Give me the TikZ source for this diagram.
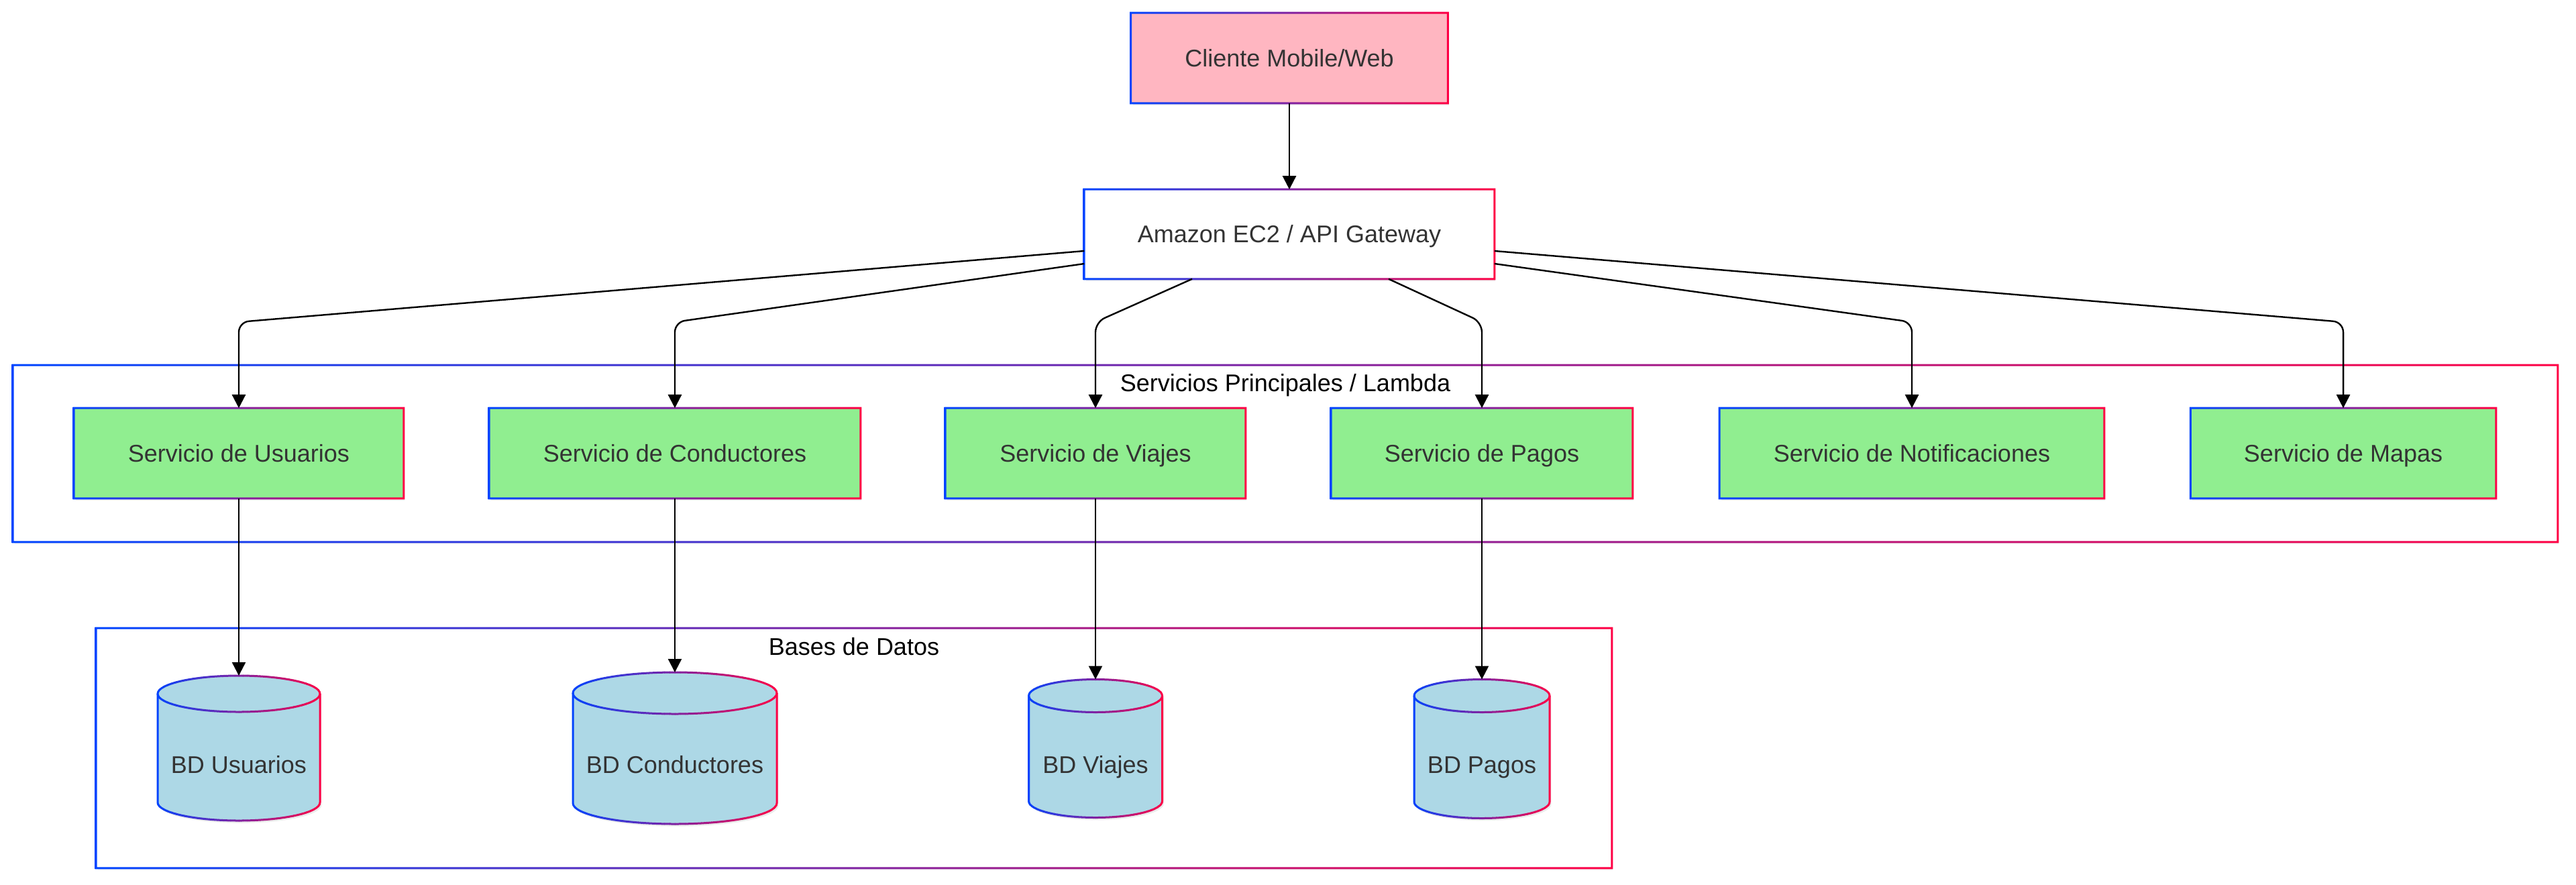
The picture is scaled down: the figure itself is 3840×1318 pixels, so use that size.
\documentclass[tikz,border=0pt]{standalone}
\usepackage{fontspec}
\setmainfont{Liberation Sans}
\usetikzlibrary{arrows.meta,shadows,calc}
\definecolor{gblue}{RGB}{0,68,255}
\definecolor{gred}{RGB}{255,0,68}
\definecolor{txtc}{RGB}{51,51,51}
\definecolor{pinkfill}{RGB}{255,182,193}
\definecolor{greenfill}{RGB}{144,238,144}
\definecolor{bluefill}{RGB}{173,216,230}
\def\px{0.25pt}
\def\hw{0.375pt}
\newcommand\gframe[1]{\shade[left color=gblue,right color=gred,even odd rule]
  ([xshift=-\hw,yshift=-\hw]#1.south west) rectangle ([xshift=\hw,yshift=\hw]#1.north east)
  ([xshift=\hw,yshift=\hw]#1.south west) rectangle ([xshift=-\hw,yshift=-\hw]#1.north east);}
\newcommand\dbcyl[5]{%
 \pgfmathsetmacro\kx{0.5523*#2}\pgfmathsetmacro\ky{0.5523*#3}%
 \begin{scope}[xshift=0.6pt,yshift=-0.9pt]
  \fill[black,opacity=0.08] (#1-#2,#4) -- (#1-#2,#5) .. controls (#1-#2,#5+\ky) and (#1-\kx,#5+#3) .. (#1,#5+#3) .. controls (#1+\kx,#5+#3) and (#1+#2,#5+\ky) .. (#1+#2,#5) -- (#1+#2,#4) .. controls (#1+#2,#4-\ky) and (#1+\kx,#4-#3) .. (#1,#4-#3) .. controls (#1-\kx,#4-#3) and (#1-#2,#4-\ky) .. (#1-#2,#4) -- cycle;
 \end{scope}
 \fill[bluefill] (#1-#2,#4) -- (#1-#2,#5) .. controls (#1-#2,#5+\ky) and (#1-\kx,#5+#3) .. (#1,#5+#3) .. controls (#1+\kx,#5+#3) and (#1+#2,#5+\ky) .. (#1+#2,#5) -- (#1+#2,#4) .. controls (#1+#2,#4-\ky) and (#1+\kx,#4-#3) .. (#1,#4-#3) .. controls (#1-\kx,#4-#3) and (#1-#2,#4-\ky) .. (#1-#2,#4) -- cycle;
 \foreach \i in {0,...,39}{%
  \pgfmathsetmacro\pc{100*(\i+0.5)/40}%
  \pgfmathsetmacro\xa{#1-#2-4+\i*(2*#2+8)/40}%
  \pgfmathsetmacro\xb{\xa+(2*#2+8)/40+0.6}%
  \begin{scope}
   \clip (\xa,0) rectangle (\xb,1318);
   \draw[line width=0.75pt, draw=gred!\pc!gblue] (#1-#2,#4) -- (#1-#2,#5) .. controls (#1-#2,#5+\ky) and (#1-\kx,#5+#3) .. (#1,#5+#3) .. controls (#1+\kx,#5+#3) and (#1+#2,#5+\ky) .. (#1+#2,#5) -- (#1+#2,#4);
   \draw[line width=0.75pt, draw=gred!\pc!gblue] (#1-#2,#4) .. controls (#1-#2,#4+\ky) and (#1-\kx,#4+#3) .. (#1,#4+#3) .. controls (#1+\kx,#4+#3) and (#1+#2,#4+\ky) .. (#1+#2,#4) .. controls (#1+#2,#4-\ky) and (#1+\kx,#4-#3) .. (#1,#4-#3) .. controls (#1-\kx,#4-#3) and (#1-#2,#4-\ky) .. (#1-#2,#4) -- cycle;
  \end{scope}}%
}
\begin{document}
\begin{tikzpicture}[x=0.25pt,y=-0.25pt,
 box/.style={rectangle, inner sep=0pt, text=txtc, font=\fontsize{9pt}{11pt}\selectfont,
   text height=6.45pt, text depth=0pt,
   drop shadow={opacity=0.12,shadow xshift=0.6pt,shadow yshift=-0.9pt}},
 cluster/.style={rectangle, inner sep=0pt, fill=white,
   drop shadow={opacity=0.08,shadow xshift=0.6pt,shadow yshift=-0.9pt}},
 titlelbl/.style={font=\fontsize{9pt}{11pt}\selectfont, text=black, anchor=base, inner sep=0pt},
 dblabel/.style={font=\fontsize{9pt}{11pt}\selectfont, text=txtc, inner sep=0pt, text height=6.45pt, text depth=0pt},
 edge/.style={line width=0.6pt, draw=black, -{Triangle[length=5pt,width=5pt]}, rounded corners=3.75pt}
]
\useasboundingbox (0,0) rectangle (3840,1318);
\fill[white] (0,0) rectangle (3840,1318);

% containers
\node[cluster, minimum width=3792*\px, minimum height=262*\px] (svcbox) at (1916,676) {};
\gframe{svcbox}
\node[titlelbl] (svctitle) at (1916,583) {Servicios Principales / Lambda};

\node[cluster, minimum width=2258*\px, minimum height=356*\px] (dbbox) at (1273,1115) {};
\gframe{dbbox}
\node[titlelbl] (dbtitle) at (1273,976) {Bases de Datos};

% top nodes
\node[box, fill=pinkfill, minimum width=471*\px, minimum height=133*\px] (client) at (1922,86.5) {Cliente Mobile/Web};
\gframe{client}
\node[box, fill=white, minimum width=610*\px, minimum height=132*\px] (gw) at (1922,349) {Amazon EC2 / API Gateway};
\gframe{gw}

% services
\node[box, fill=greenfill, minimum width=490*\px, minimum height=133*\px] (su) at (356,675.5) {Servicio de Usuarios};
\gframe{su}
\node[box, fill=greenfill, minimum width=552*\px, minimum height=133*\px] (sc) at (1006,675.5) {Servicio de Conductores};
\gframe{sc}
\node[box, fill=greenfill, minimum width=446*\px, minimum height=133*\px] (sv) at (1633,675.5) {Servicio de Viajes};
\gframe{sv}
\node[box, fill=greenfill, minimum width=448*\px, minimum height=133*\px] (sp) at (2209,675.5) {Servicio de Pagos};
\gframe{sp}
\node[box, fill=greenfill, minimum width=572*\px, minimum height=133*\px] (sn) at (2850,675.5) {Servicio de Notificaciones};
\gframe{sn}
\node[box, fill=greenfill, minimum width=454*\px, minimum height=133*\px] (sm) at (3493,675.5) {Servicio de Mapas};
\gframe{sm}

% databases
\dbcyl{356}{121}{27}{1034}{1196}
\node[dblabel] (dbu) at (356,1140) {BD Usuarios};
\coordinate (dbu-top) at (356,1007);
\dbcyl{1006}{152}{31}{1033}{1197}
\node[dblabel] (dbc) at (1006,1140) {BD Conductores};
\coordinate (dbc-top) at (1006,1002);
\dbcyl{1633}{99.5}{24.5}{1037}{1194}
\node[dblabel] (dbv) at (1633,1140) {BD Viajes};
\coordinate (dbv-top) at (1633,1012.5);
\dbcyl{2209}{101}{24.5}{1037}{1195}
\node[dblabel] (dbp) at (2209,1140) {BD Pagos};
\coordinate (dbp-top) at (2209,1012.5);

% edges
\draw[edge] (client.south) -- (gw.north);
\draw[edge] ($(gw.west)+(0,25)$) -- (su.north |- 0,480) -- (su.north);
\draw[edge] ($(gw.west)+(0,44)$) -- (sc.north |- 0,480) -- (sc.north);
\draw[edge] ($(gw.south)+(-145,0)$) -- (sv.north |- 0,480) -- (sv.north);
\draw[edge] ($(gw.south)+(148,0)$) -- (sp.north |- 0,480) -- (sp.north);
\draw[edge] ($(gw.east)+(0,44)$) -- (sn.north |- 0,480) -- (sn.north);
\draw[edge] ($(gw.east)+(0,25)$) -- (sm.north |- 0,480) -- (sm.north);

\draw[edge] (su.south) -- (dbu-top);
\draw[edge] (sc.south) -- (dbc-top);
\draw[edge] (sv.south) -- (dbv-top);
\draw[edge] (sp.south) -- (dbp-top);
\end{tikzpicture}
\end{document}
